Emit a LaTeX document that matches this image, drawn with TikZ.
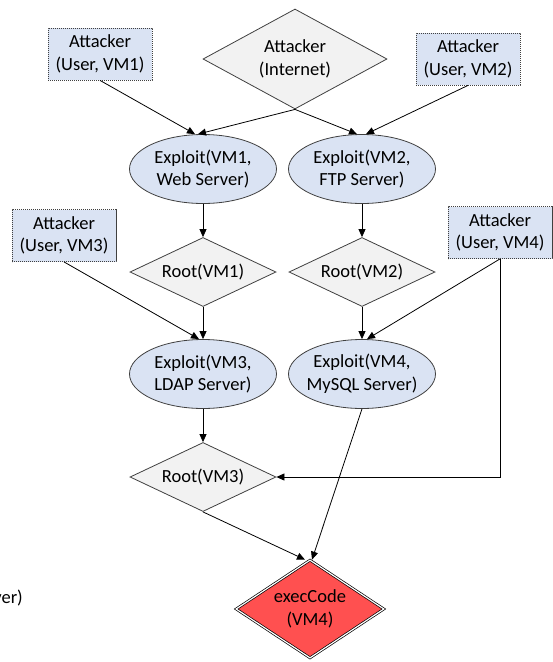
\documentclass[tikz,border=0pt]{standalone}
\usepackage{fontspec}
\setmainfont{Carlito}
\usetikzlibrary{shapes.geometric,arrows.meta}
\definecolor{attfill}{RGB}{218,227,243}
\definecolor{rootfill}{RGB}{242,242,242}
\definecolor{goalfill}{RGB}{255,80,80}
\definecolor{linegray}{RGB}{64,64,64}
\begin{document}
\begin{tikzpicture}[x=1pt,y=-1pt,
  font=\fontsize{18.5}{22.6}\selectfont,
  >={Triangle[length=8pt,width=7pt]},
  attacker/.style={rectangle, draw=linegray, dash pattern=on 1.2pt off 0.8pt,
    line width=0.8pt, fill=attfill, minimum width=104pt, minimum height=52pt,
    inner sep=0pt, align=center},
  exploit/.style={ellipse, draw=linegray, line width=0.8pt, fill=attfill,
    minimum width=147pt, minimum height=69pt, inner xsep=-8pt, inner ysep=0pt,
    align=center},
  priv/.style={diamond, draw=linegray, line width=0.8pt, fill=rootfill,
    aspect=2, inner sep=0pt, minimum width=146pt, minimum height=69pt,
    align=center},
  goal/.style={diamond, draw=black, line width=0.7pt, double=white,
    double distance=1.2pt, fill=goalfill, aspect=1.5, inner sep=0pt,
    minimum width=148pt, minimum height=98pt, align=center},
  conn/.style={->, line width=0.8pt, draw=black}]
\useasboundingbox (0,0) rectangle (553,662);

% attacker starting points
\node[attacker] (a1) at (100,54) {Attacker\\(User, VM1)};
\node[priv, aspect=1.8, minimum width=184pt, minimum height=100pt] (ai) at (295,59) {Attacker\\(Internet)};
\node[attacker] (a2) at (468,59) {Attacker\\(User, VM2)};
\node[attacker] (a3) at (64,235.5) {Attacker\\(User, VM3)};
\node[attacker] (a4) at (500,232.5) {Attacker\\(User, VM4)};

% exploits and privileges
\node[exploit] (e1) at (203,169) {Exploit(VM1,\\Web Server)};
\node[exploit] (e2) at (362,169) {Exploit(VM2,\\FTP Server)};
\node[priv] (r1) at (203,272) {Root(VM1)};
\node[priv] (r2) at (362,272) {Root(VM2)};
\node[exploit] (e3) at (203,374) {Exploit(VM3,\\LDAP Server)};
\node[exploit] (e4) at (362,374) {Exploit(VM4,\\MySQL Server)};
\node[priv] (r3) at (203,477) {Root(VM3)};

% goal
\node[goal] (ex) at (310,609) {execCode\\(VM4)};

% cut-off label at the left margin
\node[anchor=east, inner sep=0pt] (frag) at (23,598) {(MySQL Server)};

% connectors
\draw[conn] (a1.south) -- ([xshift=-8pt]e1.north);
\draw[conn] (ai.south) -- ([xshift=-5pt]e1.north);
\draw[conn] (ai.south) -- ([xshift=-5pt]e2.north);
\draw[conn] (a2.south) -- ([xshift=4pt]e2.north);
\draw[conn] (e1.south) -- (r1.north);
\draw[conn] (e2.south) -- (r2.north);
\draw[conn] (r1.south) -- (e3.north);
\draw[conn] (a3.south) -- ([xshift=-4pt]e3.north);
\draw[conn] (r2.south) -- (e4.north);
\draw[conn] (a4.south) -- ([xshift=5pt]e4.north);
\draw[conn] (e3.south) -- (r3.north);
\draw[conn] (a4.south) |- (r3.east);
\draw[conn] (r3.south) -- ([xshift=-5pt]ex.north);
\draw[conn] (e4.south) -- ([xshift=2pt]ex.north);
\end{tikzpicture}
\end{document}
